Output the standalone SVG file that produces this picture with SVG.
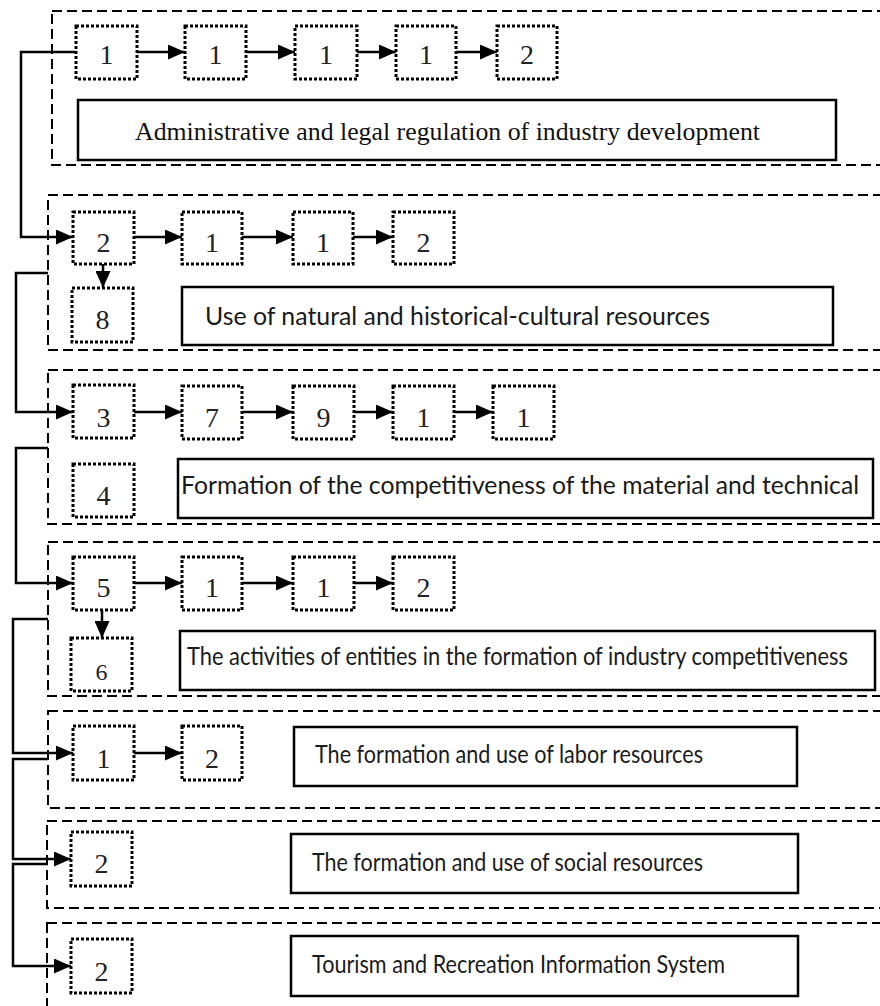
<svg xmlns="http://www.w3.org/2000/svg" width="880" height="1006" viewBox="0 0 880 1006">
<style>
.sec{fill:none;stroke:#000;stroke-width:2;stroke-dasharray:10 5}
.dot{fill:#fff;stroke:#000;stroke-width:3;stroke-dasharray:3 2}
.tb{fill:#fff;stroke:#000;stroke-width:2.5}
.num{font-family:"Liberation Serif","Times New Roman",serif;font-size:28px;fill:#222;text-anchor:middle}
.ser{font-family:"Liberation Serif","Times New Roman",serif;font-size:26px;fill:#111}
.sans{font-family:Lato,"Open Sans",sans-serif;font-size:25px;fill:#1a1a1a}
.ln{fill:none;stroke:#000;stroke-width:2.5}
</style>
<defs>
<marker id="ah" markerUnits="userSpaceOnUse" markerWidth="18" markerHeight="15" refX="17" refY="7.5" orient="auto">
<path d="M0,0 L17,7.5 L0,15 z" fill="#000"/>
</marker>
</defs>

<g id="sections">
<rect class="sec" x="52" y="11" width="850" height="154"/>
<rect class="sec" x="48" y="195" width="850" height="155"/>
<rect class="sec" x="48" y="370" width="850" height="154"/>
<rect class="sec" x="48" y="542" width="850" height="154"/>
<rect class="sec" x="48" y="711" width="850" height="97"/>
<rect class="sec" x="47" y="821" width="850" height="87"/>
<rect class="sec" x="47" y="923" width="850" height="100"/>
</g>

<g id="connectors">
<path class="ln" d="M76,52 H21 V237 H73" marker-end="url(#ah)"/>
<path class="ln" d="M48,273 H16 V412 H73" marker-end="url(#ah)"/>
<path class="ln" d="M48,448 H16 V583 H73" marker-end="url(#ah)"/>
<path class="ln" d="M48,619 H13 V753 H73" marker-end="url(#ah)"/>
<path class="ln" d="M48,759 H13 V859 H71" marker-end="url(#ah)"/>
<path class="ln" d="M48,864 H13 V966 H71" marker-end="url(#ah)"/>
<path class="ln" d="M137,52 H185" marker-end="url(#ah)"/>
<path class="ln" d="M246,52 H295" marker-end="url(#ah)"/>
<path class="ln" d="M357,52 H396" marker-end="url(#ah)"/>
<path class="ln" d="M456,52 H497" marker-end="url(#ah)"/>
<path class="ln" d="M134,237 H182" marker-end="url(#ah)"/>
<path class="ln" d="M242,237 H293" marker-end="url(#ah)"/>
<path class="ln" d="M353,237 H393" marker-end="url(#ah)"/>
<path class="ln" d="M103,264 V288" marker-end="url(#ah)"/>
<path class="ln" d="M134,412 H182" marker-end="url(#ah)"/>
<path class="ln" d="M242,412 H293" marker-end="url(#ah)"/>
<path class="ln" d="M354,412 H393" marker-end="url(#ah)"/>
<path class="ln" d="M454,412 H493" marker-end="url(#ah)"/>
<path class="ln" d="M134,583 H182" marker-end="url(#ah)"/>
<path class="ln" d="M242,583 H293" marker-end="url(#ah)"/>
<path class="ln" d="M354,583 H393" marker-end="url(#ah)"/>
<path class="ln" d="M102,610 V638" marker-end="url(#ah)"/>
<path class="ln" d="M134,753 H182" marker-end="url(#ah)"/>
</g>

<g id="s1">
<g id="n1a"><rect class="dot" x="76" y="26" width="61" height="53"/><text class="num" x="106.5" y="64">1</text></g>
<g id="n1b"><rect class="dot" x="185" y="26" width="61" height="53"/><text class="num" x="215.5" y="64">1</text></g>
<g id="n1c"><rect class="dot" x="295" y="26" width="62" height="53"/><text class="num" x="326" y="64">1</text></g>
<g id="n1d"><rect class="dot" x="396" y="26" width="60" height="53"/><text class="num" x="426" y="64">1</text></g>
<g id="n1e"><rect class="dot" x="497" y="26" width="60" height="53"/><text class="num" x="527" y="64">2</text></g>
<g id="t1"><rect class="tb" x="78" y="100" width="758" height="60"/><text class="ser" x="135" y="140" textLength="625" lengthAdjust="spacingAndGlyphs">Administrative and legal regulation of industry development</text></g>
</g>

<g id="s2">
<g id="n2a"><rect class="dot" x="73" y="212" width="61" height="52"/><text class="num" x="103.5" y="252">2</text></g>
<g id="n2b"><rect class="dot" x="182" y="212" width="60" height="52"/><text class="num" x="212" y="252">1</text></g>
<g id="n2c"><rect class="dot" x="293" y="212" width="60" height="52"/><text class="num" x="323" y="252">1</text></g>
<g id="n2d"><rect class="dot" x="393" y="212" width="61" height="52"/><text class="num" x="423.5" y="252">2</text></g>
<g id="n2e"><rect class="dot" x="72" y="288" width="61" height="54"/><text class="num" x="102.5" y="329">8</text></g>
<g id="t2"><rect class="tb" x="182" y="287" width="651" height="58"/><text class="sans" x="205" y="325" textLength="505" lengthAdjust="spacingAndGlyphs">Use of natural and historical-cultural resources</text></g>
</g>

<g id="s3">
<g id="n3a"><rect class="dot" x="73" y="385" width="61" height="53"/><text class="num" x="103.5" y="427">3</text></g>
<g id="n3b"><rect class="dot" x="182" y="386" width="60" height="53"/><text class="num" x="212" y="427">7</text></g>
<g id="n3c"><rect class="dot" x="293" y="386" width="61" height="53"/><text class="num" x="323.5" y="427">9</text></g>
<g id="n3d"><rect class="dot" x="393" y="386" width="61" height="53"/><text class="num" x="423.5" y="427">1</text></g>
<g id="n3e"><rect class="dot" x="493" y="386" width="61" height="53"/><text class="num" x="523.5" y="427">1</text></g>
<g id="n3f"><rect class="dot" x="73" y="464" width="61" height="53"/><text class="num" x="103.5" y="505">4</text></g>
<g id="t3"><rect class="tb" x="178" y="459" width="695" height="59"/><text class="sans" x="181" y="494" textLength="678" lengthAdjust="spacingAndGlyphs">Formation of the competitiveness of the material and technical</text></g>
</g>

<g id="s4">
<g id="n4a"><rect class="dot" x="73" y="557" width="61" height="53"/><text class="num" x="103.5" y="597">5</text></g>
<g id="n4b"><rect class="dot" x="182" y="557" width="60" height="53"/><text class="num" x="212" y="597">1</text></g>
<g id="n4c"><rect class="dot" x="293" y="557" width="61" height="53"/><text class="num" x="323.5" y="597">1</text></g>
<g id="n4d"><rect class="dot" x="393" y="557" width="61" height="53"/><text class="num" x="423.5" y="597">2</text></g>
<g id="n4e"><rect class="dot" x="71" y="638" width="61" height="53"/><text class="num" x="101.5" y="680" style="font-size:24px">6</text></g>
<g id="t4"><rect class="tb" x="180" y="631" width="695" height="59"/><text class="sans" x="187" y="665" textLength="661" lengthAdjust="spacingAndGlyphs">The activities of entities in the formation of industry competitiveness</text></g>
</g>

<g id="s5">
<g id="n5a"><rect class="dot" x="73" y="726" width="61" height="54"/><text class="num" x="103.5" y="768">1</text></g>
<g id="n5b"><rect class="dot" x="182" y="726" width="60" height="54"/><text class="num" x="212" y="768">2</text></g>
<g id="t5"><rect class="tb" x="294" y="727" width="503" height="59"/><text class="sans" x="315" y="763" textLength="388" lengthAdjust="spacingAndGlyphs">The formation and use of labor resources</text></g>
</g>

<g id="s6">
<g id="n6a"><rect class="dot" x="71" y="832" width="61" height="54"/><text class="num" x="101.5" y="873">2</text></g>
<g id="t6"><rect class="tb" x="291" y="834" width="507" height="59"/><text class="sans" x="312" y="871" textLength="391" lengthAdjust="spacingAndGlyphs">The formation and use of social resources</text></g>
</g>

<g id="s7">
<g id="n7a"><rect class="dot" x="71" y="939" width="61" height="54"/><text class="num" x="101.5" y="981">2</text></g>
<g id="t7"><rect class="tb" x="291" y="936" width="507" height="60"/><text class="sans" x="312" y="973" textLength="413" lengthAdjust="spacingAndGlyphs">Tourism and Recreation Information System</text></g>
</g>
</svg>
